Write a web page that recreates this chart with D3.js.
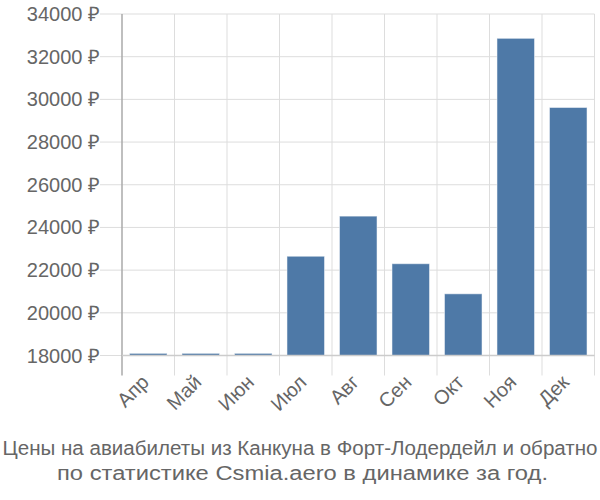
<!DOCTYPE html>
<html>
<head>
<meta charset="utf-8">
<script src="https://cdn.jsdelivr.net/npm/d3@7"></script>
<style>
  body { margin: 0; background: #fff; }
  svg { display: block; }
</style>
</head>
<body>
<div id="chart"></div>
<script>
const months = ['Апр', 'Май', 'Июн', 'Июл', 'Авг', 'Сен', 'Окт', 'Ноя', 'Дек']
const prices = [18100, 18100, 18100, 22650, 24530, 22300, 20890, 32860, 29620]
const yTicks = [18000, 20000, 22000, 24000, 26000, 28000, 30000, 32000, 34000]
const titleLines = [
  'Цены на авиабилеты из Канкуна в Форт-Лодердейл и обратно',
  'по статистике Csmia.aero в динамике за год.',
]

const W = 600, H = 500
const margin = { top: 14, right: 5.5, bottom: 144.5, left: 122 }

const svg = d3.select('#chart').append('svg')
  .attr('width', W)
  .attr('height', H)
  .style('font-family', '"Liberation Sans", Arial, sans-serif')

const x = d3.scaleBand()
  .domain(months)
  .range([margin.left, W - margin.right])
  .paddingInner(0.285)
  .paddingOuter(0.1425)

const y = d3.scaleLinear()
  .domain([18000, 34000])
  .range([H - margin.bottom, margin.top])

const step = x.step()
const x0 = margin.left

// vertical grid (band boundaries), extended below the axis as ticks
svg.append('g')
  .selectAll('line')
  .data(d3.range(1, months.length + 1))
  .enter().append('line')
  .attr('x1', i => x0 + i * step)
  .attr('x2', i => x0 + i * step)
  .attr('y1', margin.top)
  .attr('y2', H - margin.bottom + 20)
  .attr('stroke', '#dddddd')
  .attr('stroke-width', 1)

// horizontal grid, extended left as ticks
svg.append('g')
  .selectAll('line')
  .data(yTicks)
  .enter().append('line')
  .attr('x1', 100)
  .attr('x2', W - margin.right)
  .attr('y1', d => y(d))
  .attr('y2', d => y(d))
  .attr('stroke', '#dddddd')
  .attr('stroke-width', 1)

// y tick labels
svg.append('g')
  .selectAll('text')
  .data(yTicks)
  .enter().append('text')
  .attr('x', 100)
  .attr('y', d => y(d))
  .attr('dy', '0.35em')
  .attr('text-anchor', 'end')
  .attr('font-size', 20)
  .attr('fill', '#666666')
  .text(d => `${d} ₽`)

// bars
svg.append('g')
  .selectAll('rect')
  .data(months.map((m, i) => ({ m, v: prices[i] })))
  .enter().append('rect')
  .attr('x', d => x(d.m))
  .attr('width', x.bandwidth())
  .attr('y', d => y(d.v))
  .attr('height', d => Math.max(1, y(18000) - y(d.v)))
  .attr('fill', '#4e79a7')
  .attr('stroke', 'rgba(255,255,255,0.5)')
  .attr('stroke-width', 1)

// y axis line
svg.append('line')
  .attr('x1', x0).attr('x2', x0)
  .attr('y1', margin.top)
  .attr('y2', H - margin.bottom + 20)
  .attr('stroke', '#aaaaaa')
  .attr('stroke-width', 1.5)

// x axis line
svg.append('line')
  .attr('x1', x0).attr('x2', W - margin.right)
  .attr('y1', y(18000)).attr('y2', y(18000))
  .attr('stroke', '#cccccc')
  .attr('stroke-width', 1.5)

// x labels
svg.append('g')
  .selectAll('text')
  .data(months)
  .enter().append('text')
  .attr('transform', d => `translate(${x(d) + x.bandwidth() / 2 - 3},${H - margin.bottom + 23}) rotate(-45)`)
  .attr('text-anchor', 'end')
  .attr('dy', '0.35em')
  .attr('font-size', 20)
  .attr('fill', '#666666')
  .text(d => d)

// title: both lines are fitted to a set length
const title = svg.append('g')
  .attr('fill', '#666666')
  .attr('font-size', 20)
  .attr('text-anchor', 'middle')

title.append('text')
  .attr('x', W / 2)
  .attr('y', 455)
  .attr('textLength', 595)
  .attr('lengthAdjust', 'spacingAndGlyphs')
  .text(titleLines[0])

title.append('text')
  .attr('x', 302.5)
  .attr('y', 480)
  .attr('textLength', 491)
  .attr('lengthAdjust', 'spacingAndGlyphs')
  .text(titleLines[1])
</script>
</body>
</html>
